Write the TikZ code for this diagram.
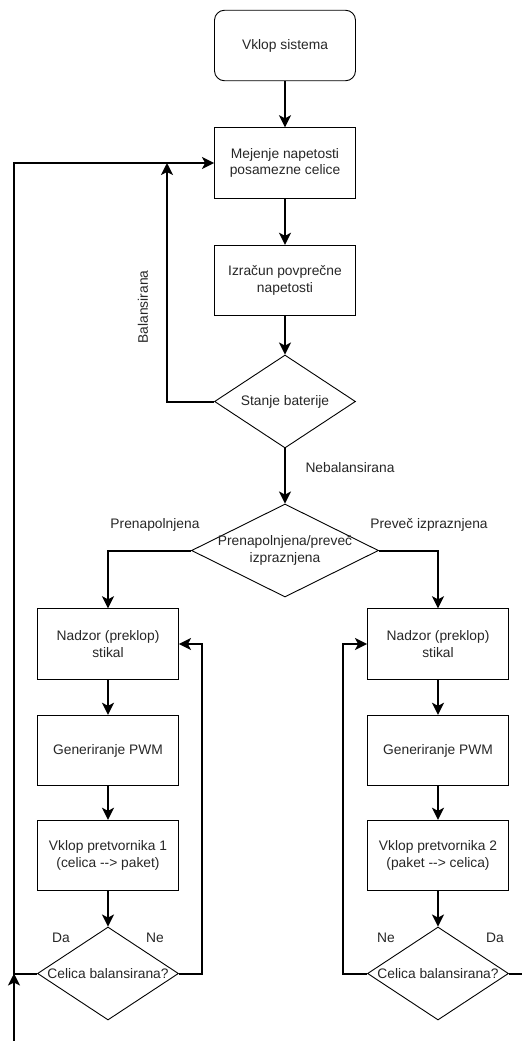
\documentclass[tikz,border=0pt]{standalone}
\usepackage{fontspec}
\setmainfont{Liberation Sans}
\usetikzlibrary{shapes.geometric,arrows.meta}

\begin{document}
\begin{tikzpicture}[x=1pt,y=-1pt,
  txt/.style={text=black!85, font=\fontsize{13.8}{16.8}\selectfont},
  box/.style={draw, line width=0.9pt, minimum width=141pt, minimum height=70.5pt,
    inner sep=0pt, align=center, txt},
  startbox/.style={box, rounded corners=10pt},
  dia/.style={draw, diamond, line width=0.9pt, inner sep=0pt,
    minimum width=141pt, minimum height=93pt},
  dlabel/.style={label={[txt, align=center]center:#1}},
  conn/.style={line width=2pt, -{Stealth[length=12pt,width=12pt,inset=3pt]}},
  wire/.style={line width=2pt},
  tag/.style={txt}
]
\useasboundingbox (0,0) rectangle (522,1041);

% central column
\node[startbox] (start) at (285,45.5) {Vklop sistema};
\node[box] (meas) at (285,163) {Mejenje napetosti\\posamezne celice};
\node[box] (avg) at (285,280.5) {Izra\v{c}un povpre\v{c}ne\\napetosti};
\node[dia, dlabel={Stanje baterije}] (state) at (285,401.5) {};
\node[dia, minimum width=187pt, dlabel={Prenapolnjena/preve\v{c}\\izpraznjena}] (kind) at (285,550.5) {};

% left branch: cell -> pack
\node[box] (l1) at (108,644) {Nadzor (preklop)\\stikal};
\node[box] (l2) at (108,750.5) {Generiranje PWM};
\node[box] (l3) at (108,855.5) {Vklop pretvornika 1\\(celica -{}-> paket)};
\node[dia, dlabel={Celica balansirana?}] (ld) at (108,973.5) {};

% right branch: pack -> cell
\node[box] (r1) at (438,644) {Nadzor (preklop)\\stikal};
\node[box] (r2) at (438,750.5) {Generiranje PWM};
\node[box] (r3) at (438,855.5) {Vklop pretvornika 2\\(paket -{}-> celica)};
\node[dia, dlabel={Celica balansirana?}] (rd) at (438,973.5) {};

% junction and edge points
\coordinate (jb) at (167,163);
\coordinate (jl) at (14,973.5);
\coordinate (bottom) at (14,1041);
\coordinate (edge) at (522,973.5);

% main flow
\draw[conn] (start) -- (meas);
\draw[conn] (meas) -- (avg);
\draw[conn] (avg) -- (state);
\draw[conn] (state) -- (kind);
\draw[conn] (state.west) -| (jb);
\draw[conn] (kind.west) -| (l1.north);
\draw[conn] (kind.east) -| (r1.north);

% branch flows
\draw[conn] (l1) -- (l2);
\draw[conn] (l2) -- (l3);
\draw[conn] (l3) -- (ld);
\draw[conn] (r1) -- (r2);
\draw[conn] (r2) -- (r3);
\draw[conn] (r3) -- (rd);

% retry loops
\draw[conn] (ld.east) -- ++(23,0) |- (l1.east);
\draw[conn] (rd.west) -- ++(-24,0) |- (r1.west);

% return to measurement
\draw[conn] (bottom) -- (jl);
\draw[conn] (ld.west) -- (jl) |- (meas.west);
\draw[wire] (rd.east) -- (edge);

% labels
\node[tag, rotate=90] (lbal) at (143,307) {Balansirana};
\node[tag] (lneb) at (350,468) {Nebalansirana};
\node[tag] (lover) at (155,524.5) {Prenapolnjena};
\node[tag] (lunder) at (429,525) {Preve\v{c} izpraznjena};
\node[tag] (lda1) at (61,938) {Da};
\node[tag] (lne1) at (155,938) {Ne};
\node[tag] (lne2) at (386,938) {Ne};
\node[tag] (lda2) at (495,938) {Da};
\end{tikzpicture}
\end{document}
